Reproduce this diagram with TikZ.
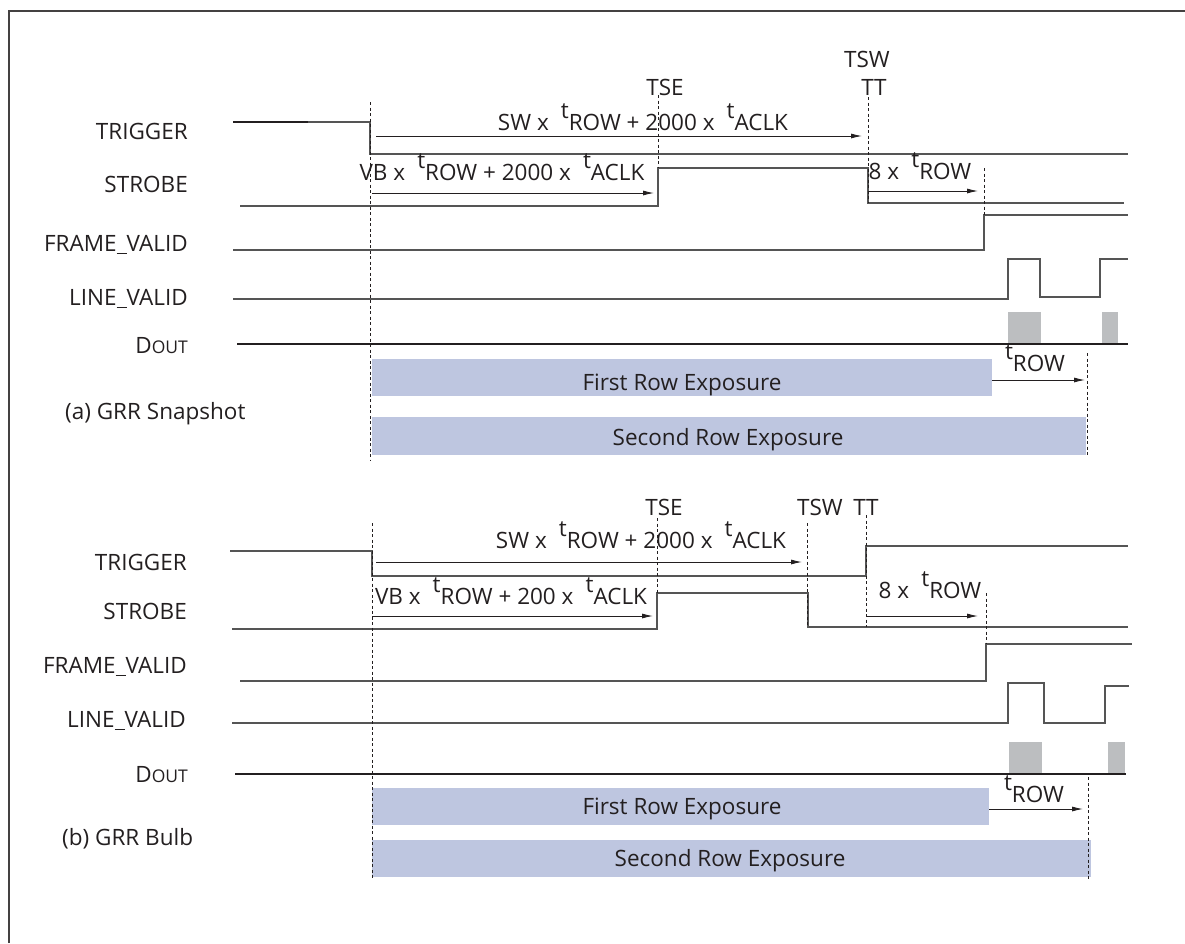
\documentclass[tikz,border=0pt]{standalone}
\usepackage{fontspec}
\setmainfont{Open Sans}
\usetikzlibrary{arrows.meta}
\definecolor{ink}{HTML}{231F20}
\definecolor{wave}{HTML}{555555}
\definecolor{expo}{HTML}{BEC6E0}
\definecolor{databox}{HTML}{BCBEC0}
\newcommand{\tsub}[1]{\raisebox{0.52em}{t}#1}
\newcommand{\dout}{D{\fontsize{17.5}{21}\selectfont OUT}}
\newcommand{\usc}{\rule[-0.13em]{0.45em}{0.06em}}
\tikzset{
  sig/.style={draw=wave, line width=1.3pt, line join=miter},
  marker/.style={draw=ink, line width=0.8pt, dash pattern=on 3pt off 2.5pt},
  span/.style={draw=ink, line width=0.9pt, -{Latex[length=11pt,width=5pt]}},
  lbl/.style={anchor=base east, inner sep=0pt, text=ink},
  txt/.style={anchor=base, inner sep=0pt, text=ink},
  bar/.style={fill=expo, draw=none},
  data/.style={fill=databox, draw=none},
}
\begin{document}
\begin{tikzpicture}[x=1pt, y=-1pt, font=\fontsize{22.5}{27}\selectfont]
\useasboundingbox (0,0) rectangle (1185,943);
% frame
\draw[draw=ink!85, line width=2pt] (8.5,943) -- (8.5,11) -- (1185,11);

% ================= (a) GRR Snapshot =================
\node[lbl] (aTrig) at (188,139) {TRIGGER};
\node[lbl] (aStrb) at (188,192) {STROBE};
\node[lbl] (aFv)   at (188,251) {FRAME\usc VALID};
\node[lbl] (aLv)   at (188,305) {LINE\usc VALID};
\node[lbl] (aDo)   at (188,353) {\dout};
\node[txt, anchor=base west] (aCap) at (65,419) {(a) GRR Snapshot};

% exposure bars
\fill[bar] (372,359) rectangle (992,396);
\fill[bar] (372,417) rectangle (1086,455);
\node[txt] (aFirst)  at (682,390) {First Row Exposure};
\node[txt] (aSecond) at (728,445) {Second Row Exposure};

% data boxes
\fill[data] (1008,312) rectangle (1041,344);
\fill[data] (1102,312) rectangle (1118,344);

% waveforms
\draw[draw=ink, line width=2pt] (233,122) -- (308,122);
\draw[sig] (308,122) -- (370,122) -- (370,154) -- (1128,154);
\draw[sig] (240,206) -- (658,206) -- (658,168) -- (868,168) -- (868,203) -- (1124,203);
\draw[sig] (233,250) -- (984,250) -- (984,215) -- (1128,215);
\draw[sig] (233,299) -- (1008,299) -- (1008,259) -- (1040,259) -- (1040,297)
           -- (1100,297) -- (1100,259) -- (1128,259);
\draw[draw=ink, line width=1.3pt] (237,344) -- (1128,344);

% timing markers
\draw[marker] (370,102) -- (370,460);
\draw[marker] (658,95) -- (658,168);
\draw[marker] (868,97) -- (868,203);
\draw[marker] (984,168) -- (984,215);
\draw[marker] (1087,353) -- (1087,455);

\node[txt] (aTSE) at (665,95) {TSE};
\node[txt] (aTSW) at (867,67) {TSW};
\node[txt] (aTT)  at (874,95) {TT};

% spans
\coordinate (aSwA) at (376,136); \coordinate (aSwB) at (862,136);
\coordinate (aVbA) at (372,193); \coordinate (aVbB) at (654,193);
\coordinate (a8A)  at (868,191); \coordinate (a8B)  at (978,191);
\coordinate (aRwA) at (992,380); \coordinate (aRwB) at (1085,380);
\draw[span] (aSwA) -- (aSwB);
\draw[span] (aVbA) -- (aVbB);
\draw[span] (a8A) -- (a8B);
\draw[span] (aRwA) -- (aRwB);
\node[txt] (aSwL) at (643,130) {SW x\; \tsub{ROW} + 2000 x\; \tsub{ACLK}};
\node[txt] (aVbL) at (502,180) {VB x\; \tsub{ROW} + 2000 x\; \tsub{ACLK}};
\node[txt] (a8L)  at (920,179) {8 x\; \tsub{ROW}};
\node[txt] (aRwL) at (1035,371) {\tsub{ROW}};

% ================= (b) GRR Bulb =================
\node[lbl] (bTrig) at (187,570) {TRIGGER};
\node[lbl] (bStrb) at (187,619) {STROBE};
\node[lbl] (bFv)   at (187,673) {FRAME\usc VALID};
\node[lbl] (bLv)   at (186,727) {LINE\usc VALID};
\node[lbl] (bDo)   at (188,782) {\dout};
\node[txt, anchor=base west] (bCap) at (62,845) {(b) GRR Bulb};

\fill[bar] (372,788) rectangle (989,825);
\fill[bar] (372,840) rectangle (1091,877);
\node[txt] (bFirst)  at (682,814) {First Row Exposure};
\node[txt] (bSecond) at (730,866) {Second Row Exposure};

\fill[data] (1009,742) rectangle (1042,774);
\fill[data] (1108,742) rectangle (1125,774);

\draw[sig] (230,551) -- (372,551) -- (372,576) -- (866,576) -- (866,546) -- (1128,546);
\draw[sig] (232,629) -- (657,629) -- (657,593) -- (808,593) -- (808,627) -- (1128,627);
\draw[sig] (240,681) -- (986,681) -- (986,644) -- (1132,644);
\draw[sig] (232,723) -- (1008,723) -- (1008,683) -- (1044,683) -- (1044,723)
           -- (1105,723) -- (1105,686) -- (1129,686);
\draw[draw=ink, line width=1.3pt] (235,774) -- (1126,774);

\draw[marker] (372,523) -- (372,880);
\draw[marker] (657,518) -- (657,593);
\draw[marker] (807,523) -- (807,627);
\draw[marker] (866,515) -- (866,627);
\draw[marker] (986,593) -- (986,644);
\draw[marker] (1088,777) -- (1088,880);

\node[txt] (bTSE) at (664,515) {TSE};
\node[txt] (bTSW) at (820,515) {TSW};
\node[txt] (bTT)  at (866,515) {TT};

\coordinate (bSwA) at (376,562); \coordinate (bSwB) at (802,562);
\coordinate (bVbA) at (372,616); \coordinate (bVbB) at (653,616);
\coordinate (b8A)  at (866,616); \coordinate (b8B)  at (978,616);
\coordinate (bRwA) at (989,809); \coordinate (bRwB) at (1083,809);
\draw[span] (bSwA) -- (bSwB);
\draw[span] (bVbA) -- (bVbB);
\draw[span] (b8A) -- (b8B);
\draw[span] (bRwA) -- (bRwB);
\node[txt] (bSwL) at (641,548) {SW x\; \tsub{ROW} + 2000 x\; \tsub{ACLK}};
\node[txt] (bVbL) at (511,604) {VB x\; \tsub{ROW} + 200 x\; \tsub{ACLK}};
\node[txt] (b8L)  at (930,598) {8 x\; \tsub{ROW}};
\node[txt] (bRwL) at (1034,802) {\tsub{ROW}};
\end{tikzpicture}
\end{document}
